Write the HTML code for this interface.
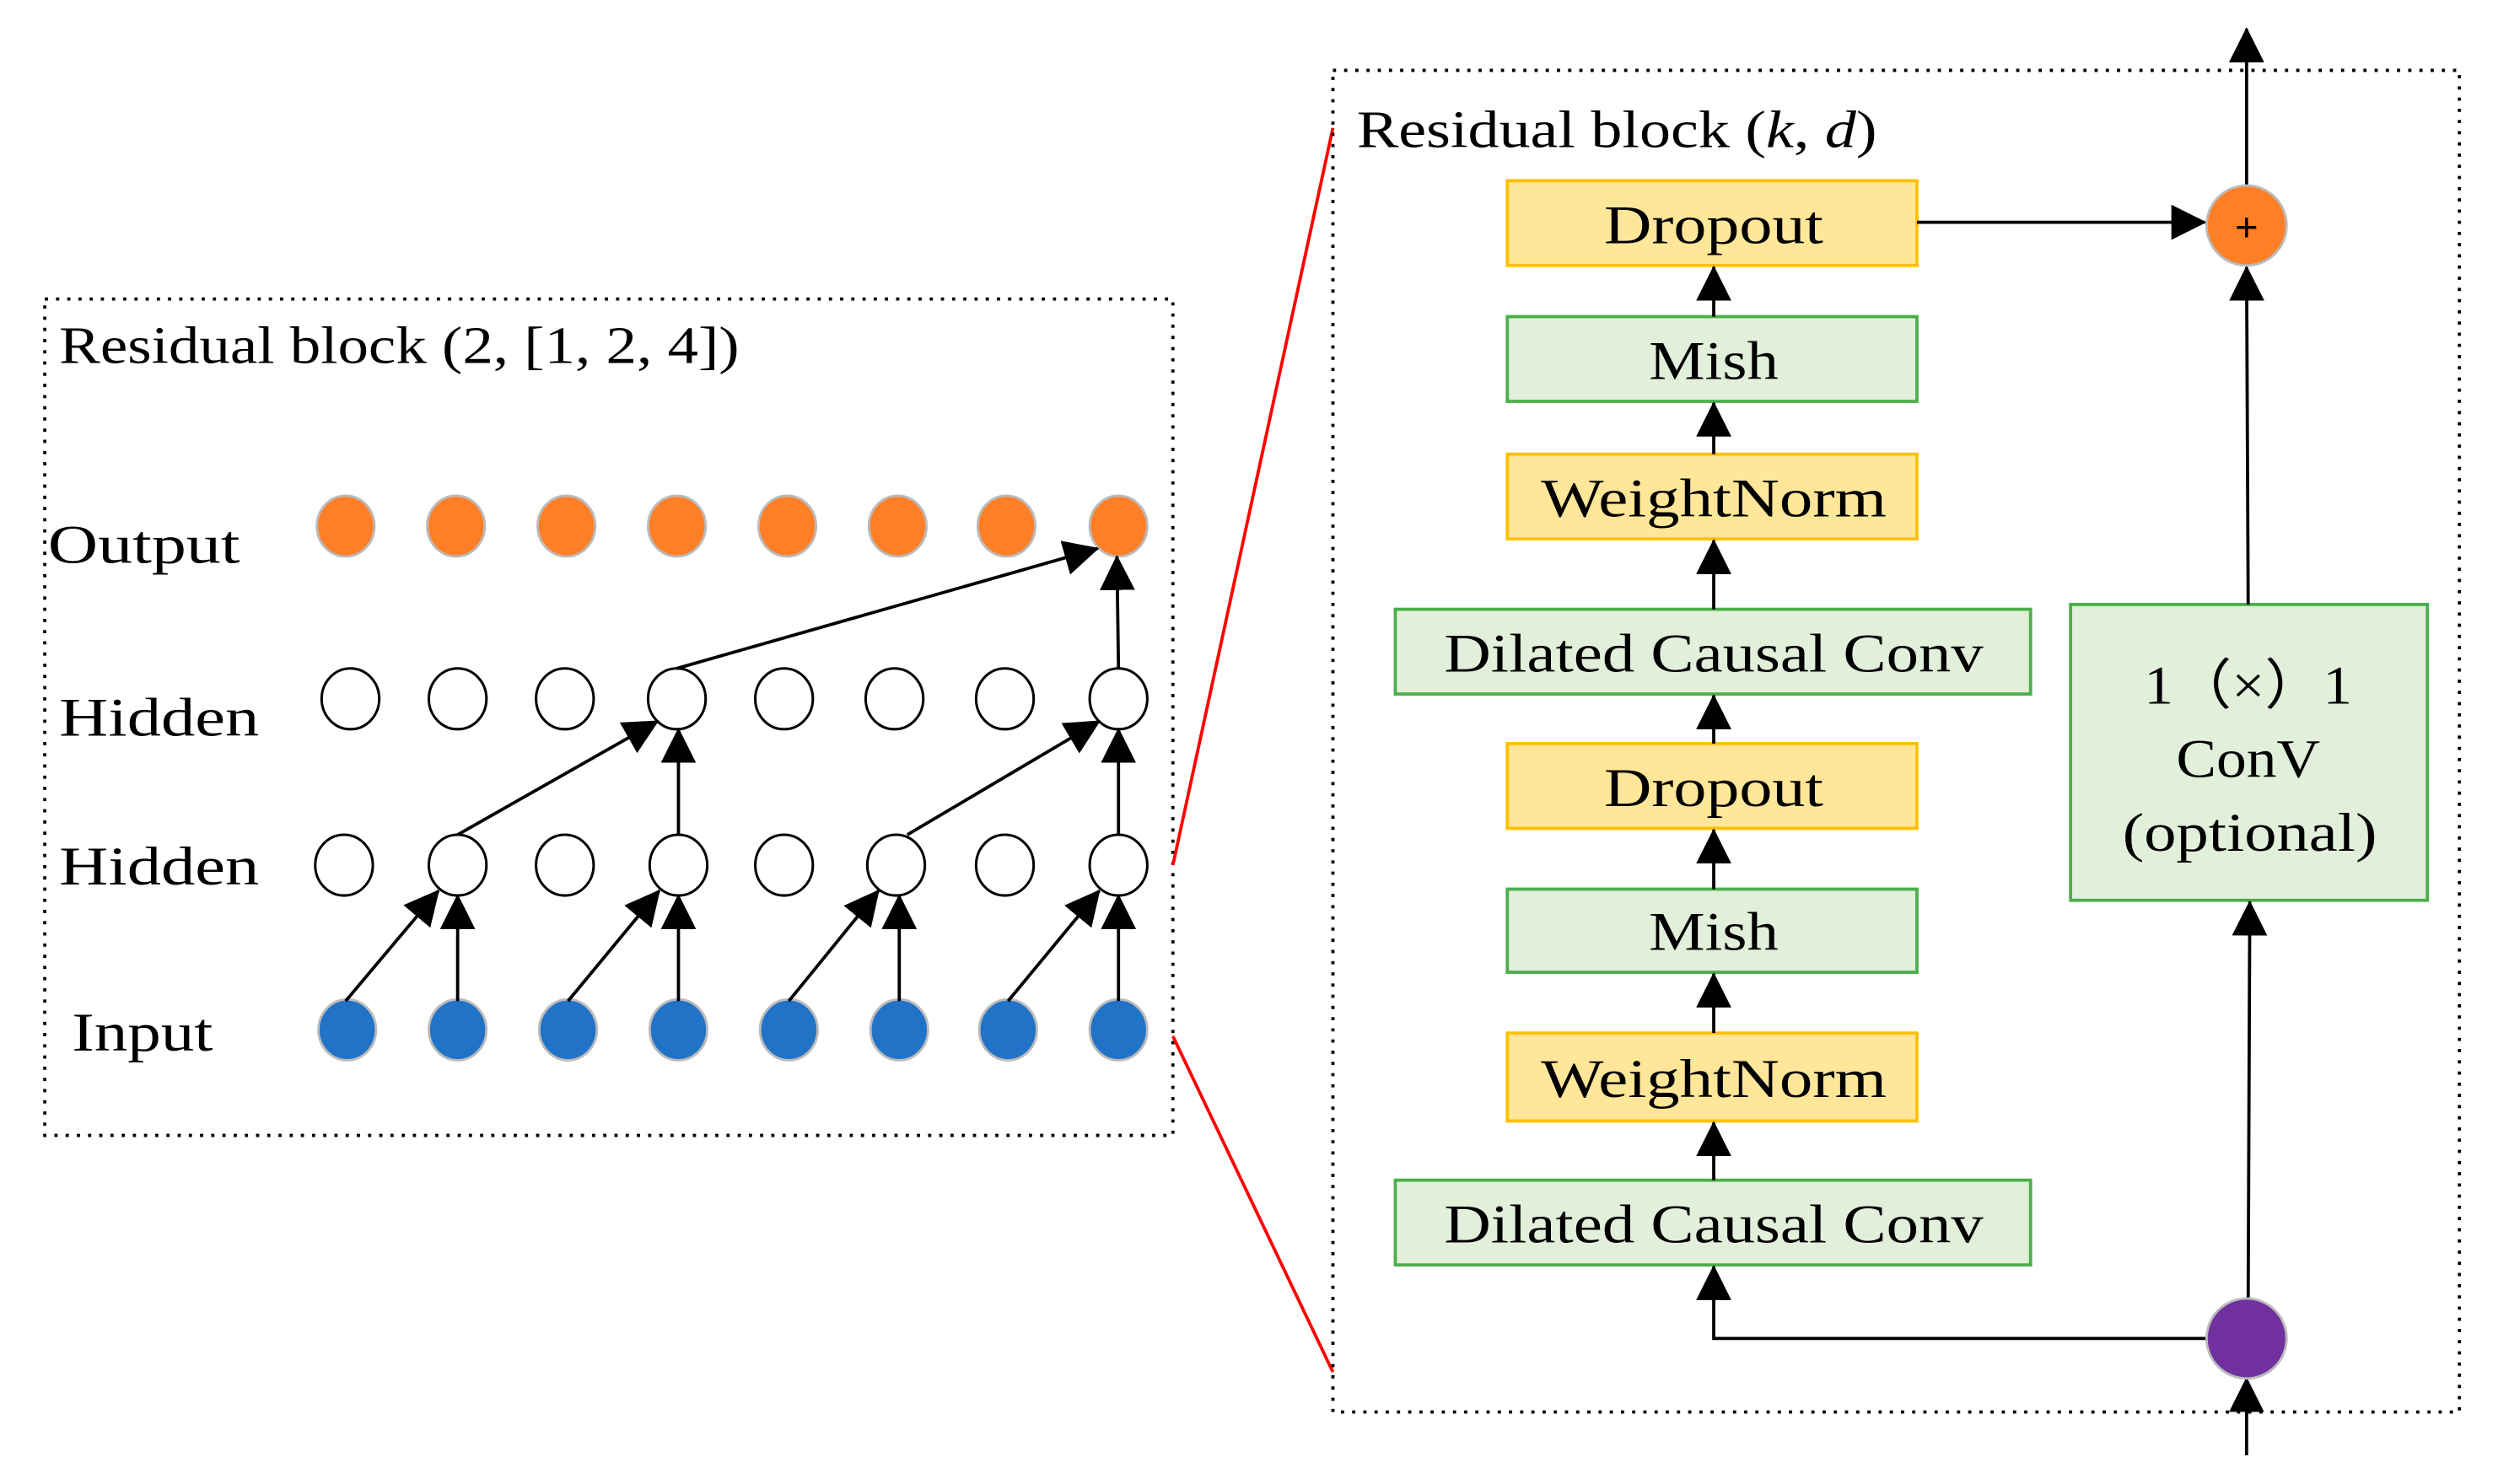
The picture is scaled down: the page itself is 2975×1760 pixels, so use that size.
<!DOCTYPE html>
<html><head><meta charset="utf-8"><style>
html,body{margin:0;padding:0;background:#fff;}
svg{display:block;}
text{font-family:"Liberation Serif","DejaVu Serif",serif;fill:#000;}
</style></head><body>
<svg width="2975" height="1760" viewBox="0 0 1568 928" preserveAspectRatio="none" xmlns="http://www.w3.org/2000/svg">
<defs>
<marker id="b" markerWidth="22" markerHeight="22" refX="21" refY="11" orient="auto" markerUnits="userSpaceOnUse" viewBox="0 0 22 22">
<path d="M0,0 L22,11 L0,22 z" fill="#000"/></marker>
</defs>
<rect x="28" y="187" width="705" height="523" fill="none" stroke="#000" stroke-width="2" stroke-dasharray="2,5"/>
<text x="37" y="227" font-size="33" textLength="425" lengthAdjust="spacingAndGlyphs">Residual block (2, [1, 2, 4])</text>
<text x="30" y="352" font-size="34" textLength="120" lengthAdjust="spacingAndGlyphs">Output</text>
<text x="37" y="460" font-size="34" textLength="125" lengthAdjust="spacingAndGlyphs">Hidden</text>
<text x="37" y="553" font-size="34" textLength="125" lengthAdjust="spacingAndGlyphs">Hidden</text>
<text x="45" y="657" font-size="34" textLength="88" lengthAdjust="spacingAndGlyphs">Input</text>
<g stroke="#bbb" stroke-width="1.5" fill="#ff7f27">
<ellipse cx="216" cy="329" rx="18" ry="19"/><ellipse cx="285" cy="329" rx="18" ry="19"/><ellipse cx="354" cy="329" rx="18" ry="19"/><ellipse cx="423" cy="329" rx="18" ry="19"/><ellipse cx="492" cy="329" rx="18" ry="19"/><ellipse cx="561" cy="329" rx="18" ry="19"/><ellipse cx="629" cy="329" rx="18" ry="19"/><ellipse cx="699" cy="329" rx="18" ry="19"/>
</g>
<g stroke="#bbb" stroke-width="1.5" fill="#2173c8">
<ellipse cx="217" cy="644" rx="18" ry="19"/><ellipse cx="286" cy="644" rx="18" ry="19"/><ellipse cx="355" cy="644" rx="18" ry="19"/><ellipse cx="424" cy="644" rx="18" ry="19"/><ellipse cx="493" cy="644" rx="18" ry="19"/><ellipse cx="562" cy="644" rx="18" ry="19"/><ellipse cx="630" cy="644" rx="18" ry="19"/><ellipse cx="699" cy="644" rx="18" ry="19"/>
</g>
<g stroke="#000" stroke-width="1.6" fill="#fff">
<ellipse cx="219" cy="437" rx="18" ry="19"/><ellipse cx="286" cy="437" rx="18" ry="19"/><ellipse cx="353" cy="437" rx="18" ry="19"/><ellipse cx="423" cy="437" rx="18" ry="19"/><ellipse cx="490" cy="437" rx="18" ry="19"/><ellipse cx="559" cy="437" rx="18" ry="19"/><ellipse cx="628" cy="437" rx="18" ry="19"/><ellipse cx="699" cy="437" rx="18" ry="19"/>
<ellipse cx="215" cy="541" rx="18" ry="19"/><ellipse cx="286" cy="541" rx="18" ry="19"/><ellipse cx="353" cy="541" rx="18" ry="19"/><ellipse cx="424" cy="541" rx="18" ry="19"/><ellipse cx="490" cy="541" rx="18" ry="19"/><ellipse cx="560" cy="541" rx="18" ry="19"/><ellipse cx="628" cy="541" rx="18" ry="19"/><ellipse cx="699" cy="541" rx="18" ry="19"/>
</g>
<g stroke="#000" stroke-width="2" marker-end="url(#b)">
<line x1="216" y1="626" x2="274" y2="557"/><line x1="286" y1="626" x2="286" y2="560"/>
<line x1="355" y1="626" x2="412" y2="557"/><line x1="424" y1="626" x2="424" y2="560"/>
<line x1="493" y1="626" x2="549" y2="557"/><line x1="562" y1="626" x2="562" y2="560"/>
<line x1="630" y1="626" x2="687" y2="557"/><line x1="699" y1="626" x2="699" y2="560"/>
<line x1="286" y1="522" x2="411" y2="451"/><line x1="424" y1="522" x2="424" y2="456"/>
<line x1="567" y1="522" x2="687" y2="451"/><line x1="699" y1="522" x2="699" y2="456"/>
<line x1="423" y1="418" x2="686" y2="343"/><line x1="699" y1="418" x2="698" y2="348"/>
</g>
<line x1="733" y1="541" x2="833" y2="80" stroke="#f00" stroke-width="2"/>
<line x1="733" y1="648" x2="833" y2="858" stroke="#f00" stroke-width="2"/>
<rect x="833" y="44" width="704" height="839" fill="none" stroke="#000" stroke-width="2" stroke-dasharray="2,5"/>
<text x="848" y="92" font-size="33" textLength="325" lengthAdjust="spacingAndGlyphs">Residual block (<tspan font-style="italic">k</tspan>, <tspan font-style="italic">d</tspan>)</text>
<g stroke-width="2">
<rect x="942" y="113" width="256" height="53" fill="#ffe699" stroke="#ffc000"/>
<rect x="942" y="198" width="256" height="53" fill="#e2efda" stroke="#4cae4c"/>
<rect x="942" y="284" width="256" height="53" fill="#ffe699" stroke="#ffc000"/>
<rect x="872" y="381" width="397" height="53" fill="#e2efda" stroke="#4cae4c"/>
<rect x="942" y="465" width="256" height="53" fill="#ffe699" stroke="#ffc000"/>
<rect x="942" y="556" width="256" height="52" fill="#e2efda" stroke="#4cae4c"/>
<rect x="942" y="646" width="256" height="55" fill="#ffe699" stroke="#ffc000"/>
<rect x="872" y="738" width="397" height="53" fill="#e2efda" stroke="#4cae4c"/>
<rect x="1294" y="378" width="223" height="185" fill="#e2efda" stroke="#4cae4c"/>
</g>
<g font-size="34" text-anchor="middle">
<text x="1071" y="152" textLength="137" lengthAdjust="spacingAndGlyphs">Dropout</text>
<text x="1071" y="237" textLength="81" lengthAdjust="spacingAndGlyphs">Mish</text>
<text x="1071" y="323" textLength="216" lengthAdjust="spacingAndGlyphs">WeightNorm</text>
<text x="1071" y="420" textLength="337" lengthAdjust="spacingAndGlyphs">Dilated Causal Conv</text>
<text x="1071" y="504" textLength="137" lengthAdjust="spacingAndGlyphs">Dropout</text>
<text x="1071" y="594" textLength="81" lengthAdjust="spacingAndGlyphs">Mish</text>
<text x="1071" y="686" textLength="216" lengthAdjust="spacingAndGlyphs">WeightNorm</text>
<text x="1071" y="777" textLength="337" lengthAdjust="spacingAndGlyphs">Dilated Causal Conv</text>
<text x="1405" y="440" textLength="130" lengthAdjust="spacingAndGlyphs">1（×）1</text>
<text x="1405" y="486" textLength="90" lengthAdjust="spacingAndGlyphs">ConV</text>
<text x="1406" y="532" textLength="159" lengthAdjust="spacingAndGlyphs">(optional)</text>
</g>
<g stroke="#000" stroke-width="2" fill="none" marker-end="url(#b)">
<line x1="1071" y1="198" x2="1071" y2="167"/>
<line x1="1071" y1="284" x2="1071" y2="252"/>
<line x1="1071" y1="381" x2="1071" y2="338"/>
<line x1="1071" y1="465" x2="1071" y2="435"/>
<line x1="1071" y1="556" x2="1071" y2="519"/>
<line x1="1071" y1="646" x2="1071" y2="609"/>
<line x1="1071" y1="738" x2="1071" y2="702"/>
<polyline points="1380,837 1071,837 1071,792"/>
<line x1="1198" y1="139" x2="1378" y2="139"/>
<line x1="1405" y1="378" x2="1404" y2="167"/>
<line x1="1405" y1="812" x2="1406" y2="564"/>
<line x1="1404" y1="116" x2="1404" y2="18"/>
<line x1="1404" y1="910" x2="1404" y2="862"/>
</g>
<ellipse cx="1404" cy="141" rx="25" ry="25" fill="#ff7f27" stroke="#bbb" stroke-width="1.5"/>
<text x="1404" y="151" font-size="26" text-anchor="middle" font-weight="bold" font-family="Liberation Sans, sans-serif">+</text>
<ellipse cx="1404" cy="837" rx="25" ry="25" fill="#7030a0" stroke="#bbb" stroke-width="1.5"/>
</svg>
</body></html>
